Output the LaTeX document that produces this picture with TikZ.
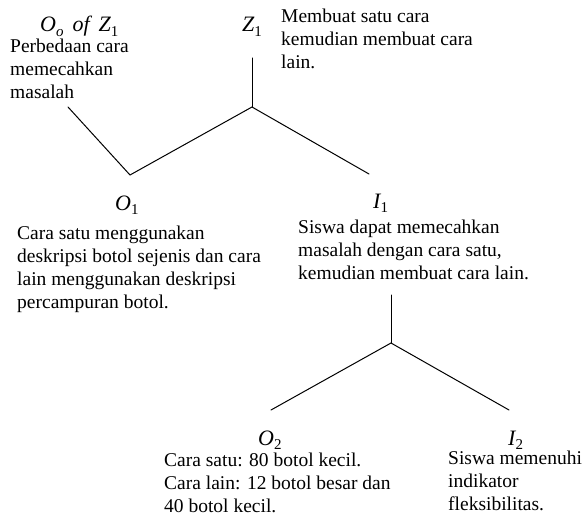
\documentclass[tikz,border=0pt]{standalone}
\usepackage{fontspec}
\setmainfont{Liberation Serif}
\newcommand{\symlab}[2]{{\itshape #1}\raisebox{-0.22em}{\fontsize{15}{15}\selectfont #2}}
\begin{document}
\begin{tikzpicture}[x=1pt,y=-1pt,
  % multi-line descriptions are placed by the baseline of their last line
  desc/.style={anchor=base west,inner sep=0pt,align=left,
    font=\fontsize{19.5}{23}\selectfont},
  lab/.style={anchor=base west,inner sep=0pt,font=\fontsize{22}{26}\selectfont},
  branch/.style={line width=1pt,line cap=round}]
\useasboundingbox (0,0) rectangle (584,519);

% symbols
\node[lab] (Oo) at (40,32) {\symlab{O}{\itshape o}\hspace{9pt}{\itshape of}\hspace{9pt}\symlab{Z}{1}};
\node[lab] (Z1) at (242,32) {\symlab{Z}{1}};
\node[lab] (O1) at (115,210) {\symlab{O}{1}};
\node[lab] (I1) at (373,208) {\symlab{I}{1}};
\node[lab] (O2) at (258,445) {\symlab{O}{2}};
\node[lab] (I2) at (508,445) {\symlab{I}{2}};

% descriptions
\node[desc] (tZ1) at (281,69) {Membuat satu cara\\kemudian membuat cara\\lain.};
\node[desc] (tOo) at (10,99) {Perbedaan cara\\memecahkan\\masalah};
\node[desc] (tO1) at (17,308) {Cara satu menggunakan\\deskripsi botol sejenis dan cara\\lain menggunakan deskripsi\\percampuran botol.};
\node[desc] (tI1) at (298,279) {Siswa dapat memecahkan\\masalah dengan cara satu,\\kemudian membuat cara lain.};
\node[desc] (tO2) at (164,512) {Cara satu: 80 botol kecil.\\Cara lain: 12 botol besar dan\\40 botol kecil.};
\node[desc] (tI2) at (448,510) {Siswa memenuhi\\indikator\\fleksibilitas.};

% branch points
\coordinate (z1top) at (252,58);
\coordinate (j1) at (252,107);
\coordinate (o1end) at (130,175);
\coordinate (ooend) at (68,107);
\coordinate (i1end) at (369,174);
\coordinate (i1top) at (391,295);
\coordinate (j2) at (391,343);
\coordinate (o2end) at (271,410);
\coordinate (i2end) at (509,410);

% tree
\draw[branch] (z1top) -- (j1);
\draw[branch] (j1) -- (o1end) -- (ooend);
\draw[branch] (j1) -- (i1end);
\draw[branch] (i1top) -- (j2);
\draw[branch] (j2) -- (o2end);
\draw[branch] (j2) -- (i2end);
\end{tikzpicture}
\end{document}
